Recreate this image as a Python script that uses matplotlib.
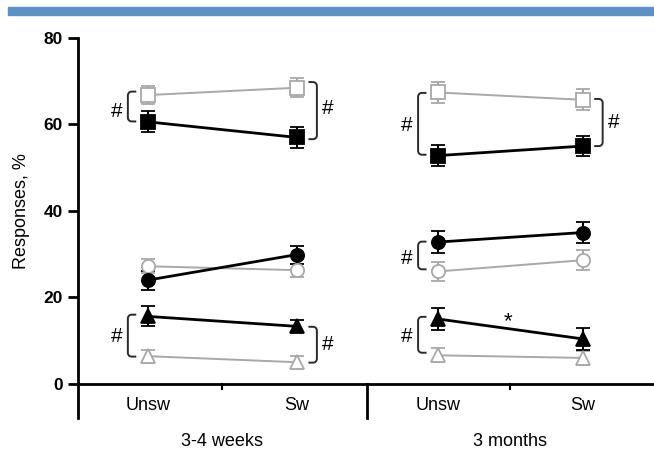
import numpy as np
import matplotlib.pyplot as plt
from matplotlib.patches import Rectangle

plt.rcParams['font.family'] = ['Liberation Sans', 'DejaVu Sans']

# x positions: 3-4 weeks (Unsw, Sw), 3 months (Unsw, Sw)
xpos = [0, 1, 1.95, 2.92]
cond_labels = ['Unsw', 'Sw', 'Unsw', 'Sw']
group_labels = ['3-4 weeks', '3 months']

# values (%), order: wk-Unsw, wk-Sw, mo-Unsw, mo-Sw
sq_open = [66.8, 68.5, 67.4, 65.7]
sq_open_err = [2.0, 2.2, 2.4, 2.4]
sq_fill = [60.6, 57.0, 52.8, 55.0]
sq_fill_err = [2.4, 2.4, 2.4, 2.4]
circ_open = [27.2, 26.3, 26.0, 28.6]
circ_open_err = [1.6, 1.5, 2.2, 2.3]
circ_fill = [24.0, 29.9, 32.8, 35.0]
circ_fill_err = [2.2, 2.1, 2.5, 2.4]
tri_fill = [15.6, 13.3, 15.0, 10.4]
tri_fill_err = [2.3, 1.4, 2.6, 2.5]
tri_open = [6.4, 5.0, 6.6, 6.0]
tri_open_err = [1.5, 1.5, 1.6, 1.6]

GRAY = '#a8a8a8'

fig = plt.figure(figsize=(6.54, 4.62), dpi=100)
fig.patches.append(Rectangle((8/654, 1-15/462), 646/654, 8/462, transform=fig.transFigure,
                             color='#5b91c4', zorder=0))
ax = fig.add_axes([78/654, 1-418/462, 576/654, 380/462])

series = [
    (sq_open, sq_open_err, 's', GRAY, 'white', 1.4),
    (circ_open, circ_open_err, 'o', GRAY, 'white', 1.4),
    (tri_open, tri_open_err, '^', GRAY, 'white', 1.4),
    (sq_fill, sq_fill_err, 's', 'black', 'black', 2.0),
    (circ_fill, circ_fill_err, 'o', 'black', 'black', 2.0),
    (tri_fill, tri_fill_err, '^', 'black', 'black', 2.0),
]

for vals, errs, mk, col, face, lw in series:
    for g in range(2):
        sl = slice(2*g, 2*g+2)
        ax.errorbar(xpos[sl], vals[sl], yerr=errs[sl], color=col, lw=lw,
                    marker=mk, ms=9.5, mfc=face, mec=col, mew=1.3,
                    ecolor=col, elinewidth=1.5, capsize=5, capthick=1.5, zorder=3)

def bracket(x, side, y0, y1, hy):
    # side: -1 left bracket (opening right), +1 right bracket (opening left)
    xv = x + side*0.135
    xe = x + side*0.085
    rx, ry = 0.025, 0.9
    cx = xv - side*rx
    t = np.linspace(0, np.pi/2, 8)
    top_x = cx + side*rx*np.cos(t)
    top_y = y1 - ry + ry*np.sin(t)
    bot_x = cx + side*rx*np.cos(t)
    bot_y = y0 + ry - ry*np.sin(t)
    px = np.concatenate([[xe], top_x[::-1], bot_x, [xe]])
    py = np.concatenate([[y1], top_y[::-1], bot_y, [y0]])
    ax.plot(px, py, color='#2a2a2a', lw=1.4, zorder=2)
    if side < 0:
        ax.text(x - 0.21, hy, '#', ha='center', va='center', fontsize=15)
    else:
        ax.text(x + 0.17, hy, '#', ha='left', va='center', fontsize=15)

bracket(xpos[0], -1, 60.7, 67.6, 63.0)
bracket(xpos[1], 1, 56.6, 69.8, 63.6)
bracket(xpos[0], -1, 6.3, 16.0, 10.9)
bracket(xpos[1], 1, 4.9, 13.2, 9.0)
bracket(xpos[2], -1, 53.0, 67.3, 59.7)
bracket(xpos[3], 1, 55.0, 65.9, 60.4)
bracket(xpos[2], -1, 26.5, 32.9, 29.1)
bracket(xpos[2], -1, 7.2, 15.5, 10.9)
ax.text(2.42, 14.4, '*', ha='center', va='center', fontsize=16)

# axes
x_left, x_right = -0.47, 3.4
ax.set_xlim(x_left, x_right)
ax.set_ylim(-7.9, 80)
for s in ['top', 'right', 'bottom']:
    ax.spines[s].set_visible(False)
ax.spines['left'].set_linewidth(2)
ax.set_yticks([0, 20, 40, 60, 80])
ax.tick_params(axis='y', width=2, length=7, labelsize=12.5, pad=4)
for t in ax.get_yticklabels():
    t.set_fontweight('bold')
ax.set_xticks([])
ax.axhline(0, color='black', lw=2, zorder=1)

divider = (xpos[1] + xpos[2]) / 2
ax.plot([divider, divider], [0, -7.9], color='black', lw=2, clip_on=False)
for g in range(2):
    c = (xpos[2*g] + xpos[2*g+1]) / 2
    ax.plot([c, c], [0, -1.2], color='black', lw=1.5)
    ax.text(c, -13.4, group_labels[g], ha='center', va='center', fontsize=13, clip_on=False)
for x, lab in zip(xpos, cond_labels):
    ax.text(x, -5.0, lab, ha='center', va='center', fontsize=13)

fig.text(22/654, 1-211/462, 'Responses, %', rotation=90, ha='center', va='center', fontsize=13)

fig.savefig('out.png', dpi=100)
